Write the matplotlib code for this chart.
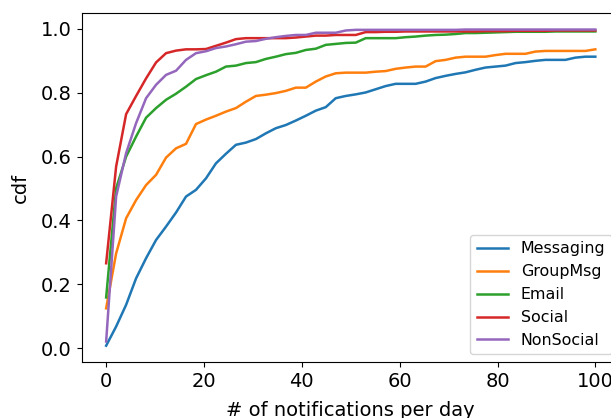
import numpy as np
import matplotlib
matplotlib.use("Agg")
import matplotlib.pyplot as plt

# =========================================================
# CDF of notifications per day, per app category
# =========================================================

OUTPUT_PNG = "out.png"

# 50 evenly spaced sample points between 0 and 100
X_GRID = np.linspace(0, 100, 50)

MESSAGING = [
    0.008, 0.068, 0.136, 0.219, 0.282, 0.339, 0.381, 0.425, 0.475, 0.496,
    0.532, 0.579, 0.609, 0.637, 0.644, 0.655, 0.673, 0.689, 0.699, 0.713,
    0.728, 0.744, 0.755, 0.783, 0.790, 0.795, 0.801, 0.811, 0.821, 0.828,
    0.828, 0.828, 0.835, 0.846, 0.853, 0.859, 0.864, 0.872, 0.879, 0.882,
    0.885, 0.893, 0.896, 0.900, 0.903, 0.903, 0.903, 0.910, 0.913, 0.913,
]
GROUPMSG = [
    0.125, 0.297, 0.407, 0.464, 0.511, 0.543, 0.597, 0.626, 0.640, 0.702,
    0.716, 0.728, 0.741, 0.752, 0.772, 0.790, 0.794, 0.799, 0.806, 0.816,
    0.816, 0.835, 0.851, 0.861, 0.863, 0.863, 0.863, 0.866, 0.868, 0.875,
    0.879, 0.882, 0.882, 0.899, 0.903, 0.910, 0.913, 0.913, 0.913, 0.918,
    0.922, 0.922, 0.922, 0.929, 0.931, 0.931, 0.931, 0.931, 0.931, 0.936,
]
EMAIL = [
    0.159, 0.501, 0.600, 0.663, 0.722, 0.752, 0.778, 0.797, 0.819, 0.843,
    0.855, 0.866, 0.882, 0.885, 0.893, 0.896, 0.906, 0.913, 0.921, 0.925,
    0.934, 0.938, 0.950, 0.953, 0.956, 0.957, 0.971, 0.971, 0.971, 0.971,
    0.974, 0.976, 0.979, 0.981, 0.982, 0.984, 0.987, 0.987, 0.988, 0.989,
    0.990, 0.991, 0.991, 0.991, 0.991, 0.992, 0.992, 0.992, 0.992, 0.992,
]
SOCIAL = [
    0.266, 0.569, 0.733, 0.790, 0.845, 0.895, 0.924, 0.932, 0.936, 0.936,
    0.937, 0.947, 0.957, 0.968, 0.971, 0.971, 0.971, 0.971, 0.971, 0.973,
    0.976, 0.979, 0.979, 0.981, 0.981, 0.981, 0.990, 0.990, 0.991, 0.991,
    0.992, 0.992, 0.992, 0.992, 0.992, 0.992, 0.992, 0.992, 0.993, 0.993,
    0.993, 0.994, 0.994, 0.994, 0.994, 0.995, 0.995, 0.995, 0.995, 0.995,
]
NONSOCIAL = [
    0.021, 0.475, 0.611, 0.705, 0.783, 0.825, 0.856, 0.869, 0.903, 0.924,
    0.930, 0.940, 0.945, 0.952, 0.960, 0.962, 0.969, 0.974, 0.978, 0.981,
    0.981, 0.988, 0.988, 0.988, 0.995, 0.997, 0.997, 0.997, 0.997, 0.997,
    0.997, 0.997, 0.997, 0.997, 0.997, 0.997, 0.998, 0.998, 0.998, 0.998,
    0.998, 0.998, 0.998, 0.998, 0.998, 0.998, 0.998, 0.998, 0.998, 0.998,
]

SERIES = [
    ("Messaging", MESSAGING),
    ("GroupMsg", GROUPMSG),
    ("Email", EMAIL),
    ("Social", SOCIAL),
    ("NonSocial", NONSOCIAL),
]


def build_plot():
    fig = plt.figure(figsize=(6.11, 4.18), dpi=100)
    # axes run a bit past the right edge, like the cropped original
    ax = fig.add_axes([0.1337, 0.1333, 0.8807, 0.835])

    for name, values in SERIES:
        ax.plot(X_GRID, values, linewidth=1.8, label=name)

    ax.set_xlim(-5, 105)
    ax.set_ylim(-0.044, 1.049)
    ax.set_xticks([0, 20, 40, 60, 80, 100])
    ax.set_yticks([0.0, 0.2, 0.4, 0.6, 0.8, 1.0])
    ax.tick_params(labelsize=14)
    ax.set_xlabel("# of notifications per day", fontsize=14, labelpad=7)
    ax.set_ylabel("cdf", fontsize=14, labelpad=8)
    ax.legend(loc="lower right", fontsize=11.4)

    fig.savefig(OUTPUT_PNG, dpi=100)
    plt.close(fig)


if __name__ == "__main__":
    build_plot()
